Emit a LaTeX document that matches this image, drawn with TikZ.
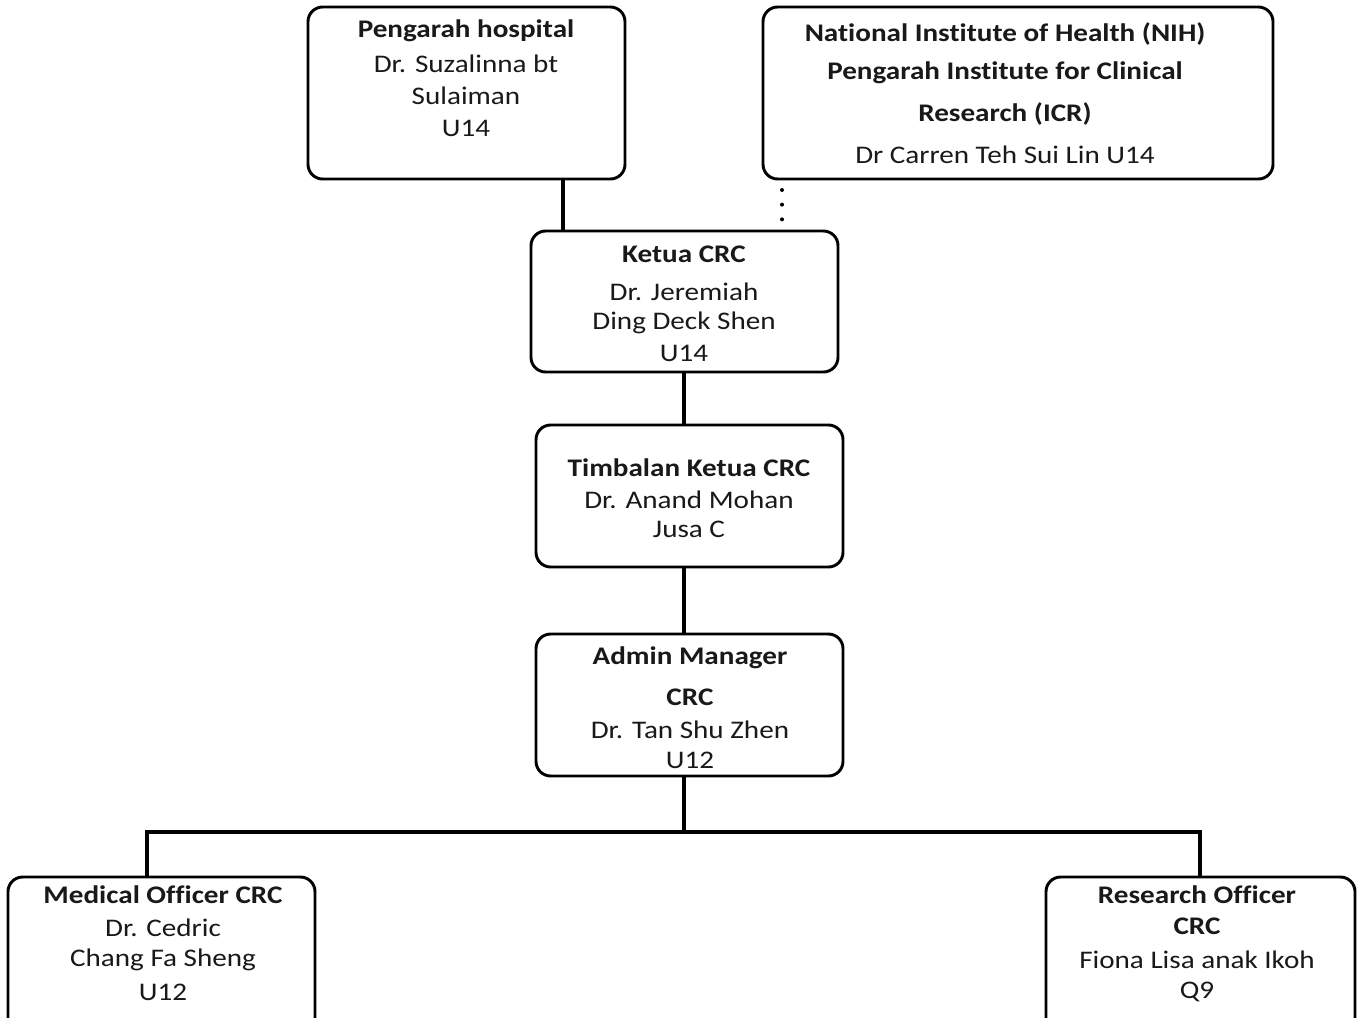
\documentclass[tikz,border=0pt]{standalone}
\usepackage{fontspec}
\usepackage{graphicx}
\setmainfont[Ligatures={NoCommon}]{Carlito}
\newcommand{\sxt}[1]{\scalebox{1.15}[1]{#1}}
\begin{document}
\begin{tikzpicture}[x=0.75pt,y=-0.75pt,
  box/.style={draw=black, line width=2.2pt, rounded corners=11pt, fill=white, inner sep=0pt},
  conn/.style={draw=black, line width=2.4pt},
  dots/.style={draw=black, line width=3pt, dash pattern=on 0pt off 11pt, line cap=round},
  txt/.style={align=center, inner sep=0pt, font=\fontsize{19}{24}\selectfont, text=black!90}
]
\useasboundingbox (0,0) rectangle (1362,1017);
% boxes
\node[box, minimum width=317*0.75pt, minimum height=172*0.75pt] (ph) at (466.5,93) {};
\node[box, minimum width=510*0.75pt, minimum height=172*0.75pt] (nih) at (1018,93) {};
\node[box, minimum width=307*0.75pt, minimum height=141*0.75pt] (ketua) at (684.5,301.5) {};
\node[box, minimum width=307*0.75pt, minimum height=142*0.75pt] (timb) at (689.5,496) {};
\node[box, minimum width=307*0.75pt, minimum height=142*0.75pt] (admin) at (689.5,705) {};
\node[box, minimum width=307*0.75pt, minimum height=170*0.75pt] (med) at (161.5,962) {};
\node[box, minimum width=309*0.75pt, minimum height=170*0.75pt] (res) at (1200.5,962) {};
% connectors
\coordinate (bus) at (684,832);
\draw[conn] (ph.south -| 563,0) -- (ketua.north -| 563,0);
\coordinate (d1) at (782,190);
\coordinate (d2) at (782,222);
\draw[dots] (d1) -- (d2);
\draw[conn] (ketua.south -| 684,0) -- (timb.north -| 684,0);
\draw[conn] (timb.south -| 684,0) -- (admin.north -| 684,0);
\draw[conn] (admin.south -| 684,0) -- (bus);
\draw[conn] (med.north -| 147,0) |- (bus) -| (res.north -| 1200,0);
% texts
\node[txt] (tph) at (466,31) {\sxt{\textbf{Pengarah hospital}}};
\node[txt] (tph2) at (466,64) {\sxt{Dr. Suzalinna bt}};
\node[txt] (tph3) at (466,96) {\sxt{Sulaiman}};
\node[txt] (tph4) at (466,128) {\sxt{U14}};
\node[txt] (tnih) at (1005,34) {\sxt{\textbf{National Institute of Health (NIH)}}};
\node[txt] (tnih2) at (1005,73) {\sxt{\textbf{Pengarah Institute for Clinical}}};
\node[txt] (tnih3) at (1005,114) {\sxt{\textbf{Research (ICR)}}};
\node[txt] (tnih4) at (1005,155) {\sxt{Dr Carren Teh Sui Lin U14}};
\node[txt] (tk) at (684,254) {\sxt{\textbf{Ketua CRC}}};
\node[txt] (tk2) at (684,292) {\sxt{Dr. Jeremiah}};
\node[txt] (tk3) at (684,323) {\sxt{Ding Deck Shen}};
\node[txt] (tk4) at (684,353) {\sxt{U14}};
\node[txt] (tt) at (689,468) {\sxt{\textbf{Timbalan Ketua CRC}}};
\node[txt] (tt2) at (689,500) {\sxt{Dr. Anand Mohan}};
\node[txt] (tt3) at (689,529) {\sxt{Jusa C}};
\node[txt] (ta) at (690,658) {\sxt{\textbf{Admin Manager}}};
\node[txt] (ta2) at (690,697) {\sxt{\textbf{CRC}}};
\node[txt] (ta3) at (690,730) {\sxt{Dr. Tan Shu Zhen}};
\node[txt] (ta4) at (690,760) {\sxt{U12}};
\node[txt] (tm) at (163,895) {\sxt{\textbf{Medical Officer CRC}}};
\node[txt] (tm2) at (163,928) {\sxt{Dr. Cedric}};
\node[txt] (tm3) at (163,960) {\sxt{Chang Fa Sheng}};
\node[txt] (tm4) at (163,992) {\sxt{U12}};
\node[txt] (tr) at (1197,895) {\sxt{\textbf{Research Officer}}};
\node[txt] (tr2) at (1197,926) {\sxt{\textbf{CRC}}};
\node[txt] (tr3) at (1197,960) {\sxt{Fiona Lisa anak Ikoh}};
\node[txt] (tr4) at (1197,992) {\sxt{Q9}};
\end{tikzpicture}
\end{document}
